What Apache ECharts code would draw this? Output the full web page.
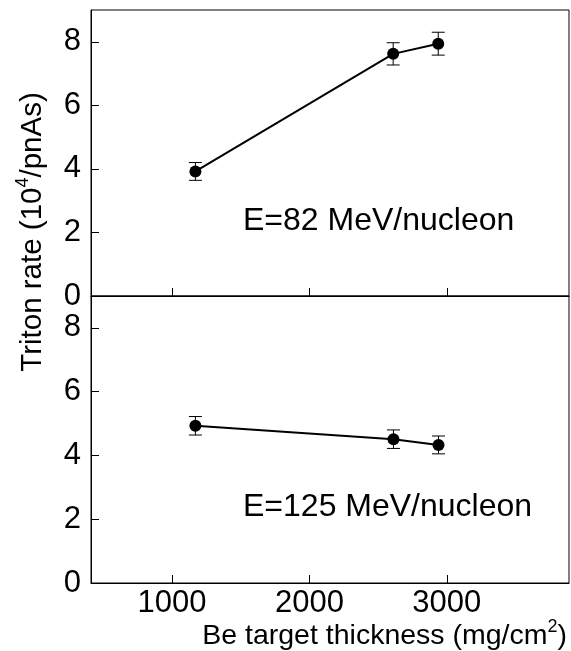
<!DOCTYPE html>
<html>
<head>
<meta charset="utf-8">
<script src="https://cdn.jsdelivr.net/npm/echarts@6/dist/echarts.min.js"></script>
<style>html,body{margin:0;padding:0;background:#fff;}#c{width:571px;height:651px;}</style>
</head>
<body>
<div id="c"></div>
<script>
// ---- data ----
var thickness82 = [1170, 2610, 2938];
var rate82 = [3.92, 7.62, 7.94];
var err82 = [0.28, 0.35, 0.36];
var thickness125 = [1170, 2612, 2940];
var rate125 = [4.93, 4.51, 4.33];
var err125 = [0.29, 0.29, 0.28];
var xTicks = [1000, 2000, 3000];
var yTicks = [0, 2, 4, 6, 8];
var label82 = 'E=82 MeV/nucleon';
var label125 = 'E=125 MeV/nucleon';
var xTitle = '{n|Be target thickness (mg/cm}{s|2}{n|)}';
var yTitle = '{n|Triton rate (10}{s|4}{n|/pnAs)}';

var FONT = '"Liberation Sans", Arial, Helvetica, sans-serif';

function pts(xs, ys) { return xs.map(function (x, i) { return [x, ys[i]]; }); }
function errs(xs, ys, es) { return xs.map(function (x, i) { return [x, ys[i] - es[i], ys[i] + es[i]]; }); }

function errRender(params, api) {
  var x = api.value(0), lo = api.value(1), hi = api.value(2);
  var a = api.coord([x, lo]), b = api.coord([x, hi]);
  var hw = 6.5;
  var st = { stroke: '#000', lineWidth: 1 };
  return { type: 'group', children: [
    { type: 'line', shape: { x1: a[0], y1: a[1], x2: b[0], y2: b[1] }, style: st },
    { type: 'line', shape: { x1: a[0] - hw, y1: a[1], x2: a[0] + hw, y2: a[1] }, style: st },
    { type: 'line', shape: { x1: b[0] - hw, y1: b[1], x2: b[0] + hw, y2: b[1] }, style: st }
  ]};
}

function plain(v) { return String(v); }

function xAx(gi, showLabel) {
  return {
    gridIndex: gi, type: 'value', min: 410, max: 3890,
    axisLine: { show: true, lineStyle: { color: '#000', width: 1 } },
    axisTick: { show: true, inside: true, length: 8, customValues: xTicks, lineStyle: { color: '#000' } },
    axisLabel: { show: showLabel, customValues: xTicks, formatter: plain, fontSize: 31, fontFamily: FONT, color: '#000', margin: 5 },
    splitLine: { show: false }
  };
}
function yAx(gi) {
  return {
    gridIndex: gi, type: 'value', min: 0, max: 9,
    axisLine: { show: true, lineStyle: { color: '#000', width: 1 } },
    axisTick: { show: true, inside: true, length: 8, customValues: yTicks, lineStyle: { color: '#000' } },
    axisLabel: { show: true, customValues: yTicks, formatter: plain, fontSize: 31, fontFamily: FONT, color: '#000', margin: 10 },
    splitLine: { show: false }
  };
}

var chart = echarts.init(document.getElementById('c'), null, { renderer: 'canvas' });
chart.setOption({
  animation: false,
  backgroundColor: '#fff',
  grid: [
    { left: 91, top: 10, width: 478, height: 286, containLabel: false, outerBoundsMode: 'none',
      show: true, borderColor: '#000', borderWidth: 1, backgroundColor: 'transparent' },
    { left: 91, top: 296, width: 478, height: 287, containLabel: false, outerBoundsMode: 'none',
      show: true, borderColor: '#000', borderWidth: 1, backgroundColor: 'transparent' }
  ],
  xAxis: [xAx(0, false), xAx(1, true)],
  yAxis: [yAx(0), yAx(1)],
  series: [
    { type: 'custom', xAxisIndex: 0, yAxisIndex: 0, renderItem: errRender, data: errs(thickness82, rate82, err82), encode: { x: 0, y: [1, 2] }, z: 3 },
    { type: 'line', xAxisIndex: 0, yAxisIndex: 0, data: pts(thickness82, rate82), symbol: 'circle', symbolSize: 12,
      itemStyle: { color: '#000' }, lineStyle: { color: '#000', width: 2 }, z: 4 },
    { type: 'custom', xAxisIndex: 1, yAxisIndex: 1, renderItem: errRender, data: errs(thickness125, rate125, err125), encode: { x: 0, y: [1, 2] }, z: 3 },
    { type: 'line', xAxisIndex: 1, yAxisIndex: 1, data: pts(thickness125, rate125), symbol: 'circle', symbolSize: 12,
      itemStyle: { color: '#000' }, lineStyle: { color: '#000', width: 2 }, z: 4 }
  ],
  graphic: [
    { type: 'text', x: 31, y: 232, rotation: Math.PI / 2,
      style: { text: yTitle, align: 'center', verticalAlign: 'middle',
        rich: {
          n: { fontSize: 29.5, fontFamily: FONT, fill: '#000', lineHeight: 34, verticalAlign: 'bottom' },
          s: { fontSize: 18, fontFamily: FONT, fill: '#000', lineHeight: 34, verticalAlign: 'top' }
        } } },
    { type: 'text', x: 567, y: 618,
      style: { text: xTitle, align: 'right', verticalAlign: 'top',
        rich: {
          n: { fontSize: 28.5, fontFamily: FONT, fill: '#000', lineHeight: 33, verticalAlign: 'bottom' },
          s: { fontSize: 18, fontFamily: FONT, fill: '#000', lineHeight: 33, verticalAlign: 'top' }
        } } },
    { type: 'text', x: 243, y: 221,
      style: { text: label82, fontSize: 32, fontFamily: FONT, fill: '#000', align: 'left', verticalAlign: 'middle' } },
    { type: 'text', x: 243, y: 507,
      style: { text: label125, fontSize: 32, fontFamily: FONT, fill: '#000', align: 'left', verticalAlign: 'middle' } }
  ]
});
</script>
</body>
</html>
